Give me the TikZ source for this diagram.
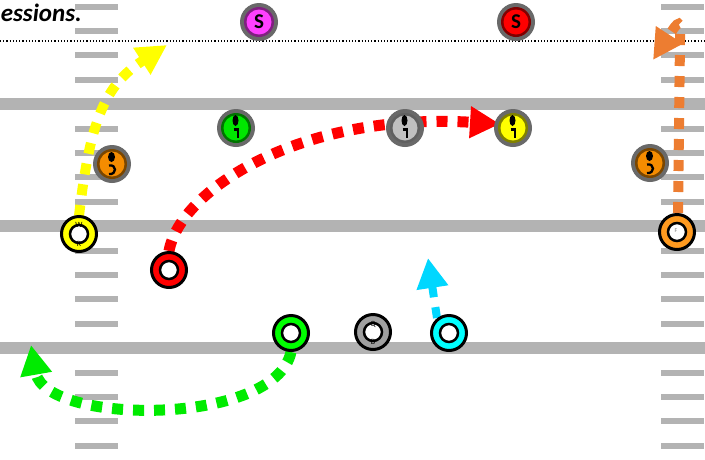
\documentclass[tikz,border=0pt]{standalone}
\usepackage{fontspec}
\setmainfont{Carlito}
\usetikzlibrary{arrows.meta}
\definecolor{fieldgray}{RGB}{179,179,179}
\definecolor{ringgray}{RGB}{105,105,105}
\definecolor{dpink}{RGB}{255,64,255}
\definecolor{dred}{RGB}{255,0,0}
\definecolor{dgreen}{RGB}{0,230,0}
\definecolor{dlgray}{RGB}{192,192,192}
\definecolor{dyellow}{RGB}{255,255,0}
\definecolor{dorange}{RGB}{245,140,0}
\definecolor{oyellow}{RGB}{255,255,0}
\definecolor{ored}{RGB}{255,0,0}
\definecolor{oorange}{RGB}{255,154,31}
\definecolor{ogreen}{RGB}{0,255,0}
\definecolor{ogray}{RGB}{160,160,160}
\definecolor{ocyan}{RGB}{0,255,255}
\definecolor{ryellow}{RGB}{255,255,0}
\definecolor{rred}{RGB}{255,0,0}
\definecolor{rgreen}{RGB}{0,235,0}
\definecolor{rcyan}{RGB}{0,215,255}
\definecolor{rorange}{RGB}{237,125,49}
\tikzset{
  yardline/.style={line width=12pt, draw=fieldgray},
  hashmark/.style={fill=fieldgray},
  defender/.style={circle, inner sep=0pt, minimum size=38pt, fill=ringgray,
    font=\bfseries\fontsize{21}{21}\selectfont,
    path picture={\fill[#1!50!black] (path picture bounding box.center) circle (15);
                  \fill[#1] (path picture bounding box.center) circle (12.5);}},
  offense/.style={circle, draw=black, line width=3pt, minimum size=35pt, inner sep=0pt, fill=#1,
    path picture={\draw[line width=2.5pt, fill=white] (path picture bounding box.center) circle (9);}},
  route/.style={line width=11pt, dash pattern=on 11pt off 10pt, line cap=butt,
    -{Triangle[length=30pt,width=30pt]}},
  playerletter/.style={inner sep=0pt, font=\fontsize{8}{8}\selectfont},
  glyphone/.pic={\fill (-0.5,-7.5) ellipse [x radius=3, y radius=5.5];
                 \draw[line width=2.3pt] (-2.5,1.5) -- (2,1.5) -- (2,9.5);},
  glyphtwo/.pic={\fill (-0.5,-7) ellipse [x radius=3.5, y radius=5];
                 \draw[line width=2.3pt] (-3,1.5) .. controls (5,0) and (5,11) .. (-3,10);}
}
\begin{document}
\begin{tikzpicture}[x=1pt,y=-1pt]
\useasboundingbox (0,0) rectangle (705,459);
\fill[white] (0,0) rectangle (705,459);
% yard lines
\foreach \yy in {104,226,348} \draw[yardline] (0,\yy) -- (705,\yy);
% hash marks
\foreach \k in {0,1,2,3,5,6,7,8,10,11,12,13,15,16,17,18} {
  \pgfmathsetmacro{\yy}{6.5+24.4*\k}
  \fill[hashmark] (75,\yy-3) rectangle (118,\yy+3);
  \fill[hashmark] (661,\yy-3) rectangle (704,\yy+3);
}
% dotted line and caption
\draw[dotted, line width=1.2pt] (0,41) -- (705,41);
\node[anchor=base east, inner sep=0pt, font=\bfseries\itshape\fontsize{25}{25}\selectfont] (caption) at (82,21) {essions.};
% offense positions
\coordinate (wrpos) at (79,234);
\coordinate (rdpos) at (169,270);
\coordinate (orpos) at (677,232);
\coordinate (grpos) at (291,333);
\coordinate (qbpos) at (373,332);
\coordinate (cypos) at (449,333);
% route endpoints
\coordinate (ytip) at (167,45);
\coordinate (rtip) at (500,124);
\coordinate (gtip) at (31,345);
\coordinate (cstart) at (437,318);
\coordinate (ctip) at (428,258);
\coordinate (otop) at (680,40);
\coordinate (otip) at (653,60);
\coordinate (ystart) at (79,216);
\coordinate (rstart) at (169,251);
\coordinate (gstart) at (291,352);
\coordinate (ostart) at (678,213);
% routes
\draw[route, line width=10pt, draw=ryellow] (ystart) .. controls (90,120) and (105,85) .. (ytip);
\draw[route, draw=rred] (rstart) .. controls (180,190) and (300,112) .. (rtip);
\draw[route, draw=rgreen] (gstart) .. controls (275,427) and (45,425) .. (gtip);
\draw[route, line width=8pt, draw=rcyan] (cstart) -- (ctip);
\draw[route, line width=10pt, draw=rorange] (ostart) -- (otop) .. controls (681,18) and (679,20) .. (otip);
% defenders
\node[defender=dpink] (s1) at (259,22) {S};
\node[defender=dred] (s2) at (516,22) {S};
\node[defender=dgreen] (d1) at (236,128) {};
\node[defender=dlgray] (d2) at (405,128) {};
\node[defender=dyellow] (d3) at (513,128) {};
\node[defender=dorange] (d4) at (112,164) {};
\node[defender=dorange] (d5) at (650,163) {};
\pic at (d1) {glyphone};
\pic at (d2) {glyphone};
\pic at (d3) {glyphone};
\pic at (d4) {glyphtwo};
\pic at (d5) {glyphtwo};
% offense
\node[offense=oyellow] (wr) at (wrpos) {};
\node[offense=ored] (rd) at (rdpos) {};
\node[offense=oorange] (or) at (orpos) {};
\node[offense=ogreen] (gr) at (grpos) {};
\node[offense=ogray] (qb) at (qbpos) {};
\node[offense=ocyan] (cy) at (cypos) {};
\node[playerletter] (wrw) at (79,225) {W};
\node[playerletter] (wrr) at (79,244) {R};
\node[playerletter] (qbq) at (373,324) {Q};
\node[playerletter] (qbb) at (373,342) {B};
\node[playerletter, text=gray, font=\fontsize{6}{6}\selectfont] (orf) at (676,231) {F};
\end{tikzpicture}
\end{document}
